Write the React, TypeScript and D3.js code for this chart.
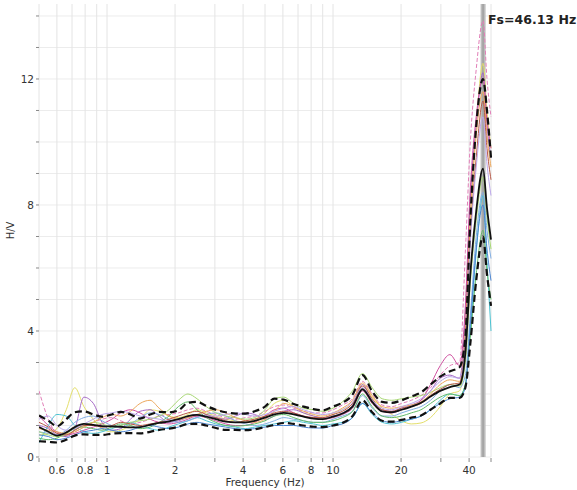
import React from "react";
import * as d3 from "d3";

// Frequency samples (Hz)
const freqs = [
  0.5, 0.55, 0.6, 0.66, 0.72, 0.79, 0.87, 0.95, 1.05, 1.15, 1.27, 1.4, 1.55, 1.7, 1.88, 2.07, 2.28,
  2.5, 2.75, 3.03, 3.35, 3.7, 4.1, 4.5, 5.0, 5.5, 6.05, 6.7, 7.4, 8.2, 9.0, 10.0, 11.0, 12.2, 13.5,
  14.9, 16.5, 18.2, 20.1, 22.2, 24.5, 27, 29.8, 32.9, 36.3, 38.5, 40.5, 43, 46.1, 48, 50,
];

// Average H/V curve
const meanHV = [
  0.95, 0.8, 0.68, 0.78, 0.95, 1.05, 1.02, 0.98, 0.97, 0.96, 0.94, 0.95, 1.02, 1.08, 1.13, 1.2, 1.3,
  1.34, 1.28, 1.2, 1.12, 1.1, 1.1, 1.15, 1.25, 1.35, 1.4, 1.35, 1.28, 1.22, 1.2, 1.28, 1.38, 1.6, 2.15,
  1.75, 1.45, 1.42, 1.5, 1.6, 1.72, 1.92, 2.1, 2.22, 2.3, 3.3, 5.8, 7.8, 9.15, 7.9, 6.9,
];

// Average multiplied by standard deviation
const upperHV = [
  1.32, 1.15, 0.98, 1.2, 1.42, 1.45, 1.35, 1.28, 1.35, 1.43, 1.35, 1.22, 1.35, 1.43, 1.42, 1.48, 1.72,
  1.75, 1.62, 1.5, 1.42, 1.38, 1.38, 1.45, 1.6, 1.85, 1.82, 1.68, 1.6, 1.52, 1.48, 1.6, 1.72, 1.98, 2.6,
  2.08, 1.75, 1.72, 1.8, 1.92, 2.05, 2.3, 2.55, 2.72, 2.85, 3.8, 7.5, 10.5, 12.0, 11.0, 9.5,
];

// Average divided by standard deviation
const lowerHV = [
  0.5, 0.48, 0.46, 0.55, 0.68, 0.72, 0.7, 0.7, 0.74, 0.76, 0.76, 0.75, 0.8, 0.86, 0.9, 0.96, 1.05,
  1.05, 1.0, 0.92, 0.86, 0.86, 0.85, 0.88, 0.95, 1.02, 1.08, 1.05, 1.0, 0.96, 0.95, 1.0, 1.08, 1.3, 1.8,
  1.42, 1.15, 1.12, 1.18, 1.25, 1.32, 1.5, 1.7, 1.88, 1.88, 2.2, 3.6, 5.6, 7.0, 5.8, 4.8,
];

// Individual time windows
const windowColors = [
  "#e4df6a", "#a568c6", "#e27fb8", "#cf4f9f", "#4cc3d2", "#82aee2",
  "#62bb68", "#a8d874", "#eda85c", "#b85a48", "#4a84d0", "#bba6ea",
];
const windowDashed = [false, false, true, false, false, false, false, false, false, false, false, false];

const win1 = [0.7, 0.75, 0.9, 1.5, 2.2, 1.6, 1.2, 0.9, 0.8, 0.85, 1.0, 1.2, 1.5, 1.45, 1.3, 1.25, 1.35, 1.5, 1.4, 1.3, 1.2, 1.15, 1.1, 1.2, 1.4, 1.7, 1.8, 1.6, 1.4, 1.3, 1.25, 1.35, 1.5, 1.7, 2.3, 1.9, 1.55, 1.35, 1.15, 1.05, 1.08, 1.25, 1.6, 2.0, 2.1, 3.6, 7.5, 10.5, 12.5, 11.0, 9.8];
const win2 = [1.0, 0.9, 0.7, 0.65, 0.9, 1.9, 1.7, 1.1, 0.85, 0.9, 1.2, 1.45, 1.5, 1.3, 1.1, 1.15, 1.25, 1.3, 1.3, 1.25, 1.2, 1.3, 1.4, 1.35, 1.2, 1.3, 1.45, 1.5, 1.4, 1.3, 1.25, 1.3, 1.4, 1.65, 2.3, 1.8, 1.5, 1.45, 1.55, 1.65, 1.8, 2.1, 2.5, 2.6, 2.5, 4.5, 8.2, 10.5, 12.2, 10.5, 9.5];
const win3 = [2.1, 1.2, 0.75, 0.7, 0.8, 0.95, 1.1, 1.2, 1.25, 1.15, 1.05, 1.1, 1.2, 1.3, 1.35, 1.4, 1.5, 1.55, 1.45, 1.35, 1.25, 1.2, 1.25, 1.3, 1.45, 1.6, 1.65, 1.55, 1.45, 1.4, 1.4, 1.5, 1.65, 1.85, 2.4, 2.0, 1.65, 1.6, 1.7, 1.8, 1.95, 2.2, 2.6, 2.9, 3.0, 6.5, 10.0, 12.3, 13.85, 12.0, 10.8];
const win4 = [1.3, 1.0, 0.8, 0.7, 0.75, 0.85, 0.95, 1.05, 1.2, 1.4, 1.5, 1.4, 1.2, 1.1, 1.05, 1.1, 1.2, 1.3, 1.25, 1.15, 1.05, 1.0, 1.0, 1.1, 1.3, 1.5, 1.55, 1.4, 1.3, 1.25, 1.2, 1.25, 1.35, 1.55, 2.1, 1.7, 1.45, 1.4, 1.5, 1.6, 1.8, 2.3, 2.9, 3.25, 2.9, 4.8, 8.5, 10.8, 12.0, 10.7, 9.8];
const win5 = [0.45, 1.0, 1.35, 1.3, 1.0, 0.8, 0.75, 0.8, 0.9, 1.0, 1.1, 1.0, 0.9, 0.85, 0.95, 1.05, 1.15, 1.25, 1.15, 1.05, 1.0, 0.95, 0.9, 0.95, 1.0, 1.05, 1.1, 1.15, 1.1, 1.05, 1.0, 1.05, 1.1, 1.25, 1.7, 1.35, 1.1, 1.05, 1.1, 1.2, 1.3, 1.5, 1.8, 2.0, 1.95, 2.3, 4.0, 6.5, 8.3, 6.2, 4.0];
const win6 = [0.8, 0.75, 0.7, 0.85, 1.1, 1.25, 1.3, 1.15, 1.0, 0.95, 1.05, 1.25, 1.4, 1.35, 1.2, 1.1, 1.15, 1.25, 1.35, 1.4, 1.3, 1.15, 1.05, 1.0, 1.05, 1.15, 1.25, 1.2, 1.15, 1.1, 1.1, 1.2, 1.3, 1.45, 1.95, 1.55, 1.3, 1.3, 1.4, 1.5, 1.6, 1.8, 2.1, 2.3, 2.2, 2.6, 4.5, 7.0, 8.4, 7.2, 6.3];
const win7 = [0.6, 0.55, 0.6, 0.75, 0.9, 0.95, 0.9, 0.85, 0.95, 1.05, 1.0, 0.9, 0.95, 1.1, 1.3, 1.6, 1.75, 1.5, 1.25, 1.1, 1.0, 0.98, 1.0, 1.05, 1.15, 1.3, 1.35, 1.25, 1.15, 1.1, 1.1, 1.15, 1.25, 1.45, 2.0, 1.6, 1.3, 1.25, 1.3, 1.4, 1.5, 1.7, 1.9, 2.0, 1.95, 2.3, 3.8, 5.8, 7.2, 5.9, 5.0];
const win8 = [0.8, 0.7, 0.65, 0.7, 0.85, 1.0, 1.1, 1.05, 0.95, 1.0, 1.1, 1.15, 1.2, 1.3, 1.5, 1.8, 2.0, 1.85, 1.6, 1.4, 1.3, 1.25, 1.2, 1.25, 1.5, 1.85, 1.9, 1.7, 1.55, 1.5, 1.45, 1.55, 1.75, 2.1, 2.65, 2.2, 1.85, 1.8, 1.85, 1.9, 1.95, 2.05, 2.2, 2.3, 2.25, 3.0, 5.5, 7.5, 8.9, 7.6, 6.6];
const win9 = [0.9, 0.85, 0.8, 0.75, 0.8, 0.95, 1.1, 1.25, 1.35, 1.3, 1.45, 1.7, 1.8, 1.55, 1.3, 1.2, 1.25, 1.35, 1.45, 1.5, 1.4, 1.25, 1.15, 1.1, 1.2, 1.45, 1.7, 1.6, 1.45, 1.35, 1.3, 1.4, 1.55, 1.8, 2.35, 1.95, 1.6, 1.55, 1.6, 1.65, 1.75, 2.0, 2.3, 2.45, 2.4, 4.0, 7.6, 10.2, 11.6, 10.2, 9.2];
const win10 = [1.1, 0.95, 0.75, 0.7, 0.85, 1.0, 1.0, 0.95, 1.0, 1.1, 1.05, 1.0, 1.05, 1.1, 1.2, 1.3, 1.4, 1.45, 1.35, 1.25, 1.15, 1.1, 1.15, 1.2, 1.3, 1.4, 1.45, 1.4, 1.3, 1.25, 1.25, 1.35, 1.45, 1.7, 2.25, 1.85, 1.5, 1.45, 1.55, 1.6, 1.7, 1.95, 2.15, 2.3, 2.35, 3.8, 7.0, 9.5, 11.3, 9.8, 8.8];
const win11 = [0.7, 0.65, 0.55, 0.6, 0.7, 0.8, 0.85, 0.9, 0.85, 0.8, 0.85, 0.95, 1.0, 0.95, 0.9, 0.95, 1.05, 1.1, 1.05, 1.0, 0.95, 0.9, 0.88, 0.9, 0.95, 1.0, 1.0, 1.0, 0.95, 0.92, 0.92, 1.0, 1.05, 1.25, 1.7, 1.4, 1.15, 1.1, 1.15, 1.2, 1.3, 1.5, 1.7, 1.85, 1.9, 2.2, 4.2, 6.6, 8.0, 6.6, 5.6];
const win12 = [1.2, 1.3, 1.0, 0.85, 0.9, 1.05, 1.2, 1.35, 1.4, 1.45, 1.4, 1.3, 1.25, 1.2, 1.15, 1.2, 1.3, 1.35, 1.3, 1.3, 1.35, 1.4, 1.35, 1.3, 1.35, 1.45, 1.55, 1.6, 1.5, 1.4, 1.35, 1.4, 1.5, 1.75, 2.2, 1.8, 1.55, 1.5, 1.6, 1.7, 1.85, 2.1, 2.4, 2.55, 2.5, 3.5, 6.8, 9.2, 10.8, 9.3, 8.3];
const windows = [win1, win2, win3, win4, win5, win6, win7, win8, win9, win10, win11, win12];

// Peak frequency marker
const peakFreq = 46.13;
const peakLabel = "Fs=46.13 Hz";

// Axis ticks
const xTickLabels = [0.6, 0.8, 1, 2, 4, 6, 8, 10, 20, 40];
const xMinorTicks = [
  0.5, 0.6, 0.7, 0.8, 0.9, 1, 2, 3, 4, 5, 6, 7, 8, 9, 10, 20, 30, 40, 50,
];
const yTickLabels = [0, 4, 8, 12];
const yMinorTicks = [0, 1, 2, 3, 4, 5, 6, 7, 8, 9, 10, 11, 12, 13, 14];

const W = 577;
const H = 490;
const plot = { left: 39, right: 491, top: 4, bottom: 457 };

export default function App() {
  const x = d3.scaleLog().domain([0.5, 50]).range([plot.left, plot.right]);
  const y = d3.scaleLinear().domain([0, 14.38]).range([plot.bottom, plot.top]);

  const line = (vals: number[]) =>
    d3
      .line<number>()
      .x((_, i) => x(freqs[i]))
      .y((v) => y(v))
      .curve(d3.curveMonotoneX)(vals) || "";

  const font = "'DejaVu Sans', 'Open Sans', sans-serif";
  const px = x(peakFreq);

  return (
    <svg
      width={W}
      height={H}
      style={{ position: "absolute", left: 0, top: 0, background: "#fff" }}
      fontFamily={font}
    >
      <defs>
        <clipPath id="plotClip">
          <rect x={plot.left} y={0} width={plot.right - plot.left + 4} height={plot.bottom} />
        </clipPath>
      </defs>

      {/* grid */}
      <g>
        {yMinorTicks.map((t) => (
          <line key={"gy" + t} x1={plot.left} x2={plot.right} y1={y(t)} y2={y(t)} stroke="#ececec" strokeWidth={1} />
        ))}
        {xMinorTicks.map((t) => (
          <line key={"gx" + t} x1={x(t)} x2={x(t)} y1={plot.top} y2={plot.bottom} stroke="#e4e4e4" strokeWidth={1} />
        ))}
      </g>

      {/* peak frequency band */}
      <rect x={px - 2.5} y={plot.top} width={5} height={plot.bottom - plot.top} fill="#bdbdbd" />
      <line x1={px} x2={px} y1={plot.top} y2={plot.bottom} stroke="#a0a0a0" strokeWidth={1.5} />

      {/* curves */}
      <g clipPath="url(#plotClip)" fill="none">
        {windows.map((w, i) => (
          <path
            key={"w" + i}
            d={line(w)}
            stroke={windowColors[i]}
            strokeWidth={1}
            strokeDasharray={windowDashed[i] ? "4,2" : undefined}
          />
        ))}
        <path d={line(meanHV)} stroke="#111" strokeWidth={1.8} />
        <path d={line(upperHV)} stroke="#111" strokeWidth={2.2} strokeDasharray="7,4" />
        <path d={line(lowerHV)} stroke="#111" strokeWidth={2.2} strokeDasharray="7,4" />
      </g>

      {/* y axis */}
      <g fontSize={10.5} fill="#333">
        {yMinorTicks.map((t) => (
          <line key={"ty" + t} x1={plot.left - 3} x2={plot.left} y1={y(t)} y2={y(t)} stroke="#888" strokeWidth={1} />
        ))}
        {yTickLabels.map((t) => (
          <text key={"ly" + t} x={plot.left - 5} y={y(t)} dy="0.35em" textAnchor="end">
            {t}
          </text>
        ))}
        <text transform={`translate(14,${(plot.top + plot.bottom) / 2}) rotate(-90)`} textAnchor="middle" fontSize={10}>
          H/V
        </text>
      </g>

      {/* x axis */}
      <g fontSize={10.5} fill="#333">
        {xMinorTicks.map((t) => (
          <line key={"tx" + t} x1={x(t)} x2={x(t)} y1={plot.bottom + 1} y2={plot.bottom + 5} stroke="#888" strokeWidth={1} />
        ))}
        {xTickLabels.map((t) => (
          <text key={"lx" + t} x={x(t)} y={plot.bottom + 17} textAnchor="middle">
            {t}
          </text>
        ))}
        <text x={(plot.left + plot.right) / 2} y={486} textAnchor="middle" fontSize={10.5}>
          Frequency (Hz)
        </text>
      </g>

      {/* peak label */}
      <text x={px + 5} y={24} fontSize={12.5} fontWeight="bold" fill="#222">
        {peakLabel}
      </text>
    </svg>
  );
}
